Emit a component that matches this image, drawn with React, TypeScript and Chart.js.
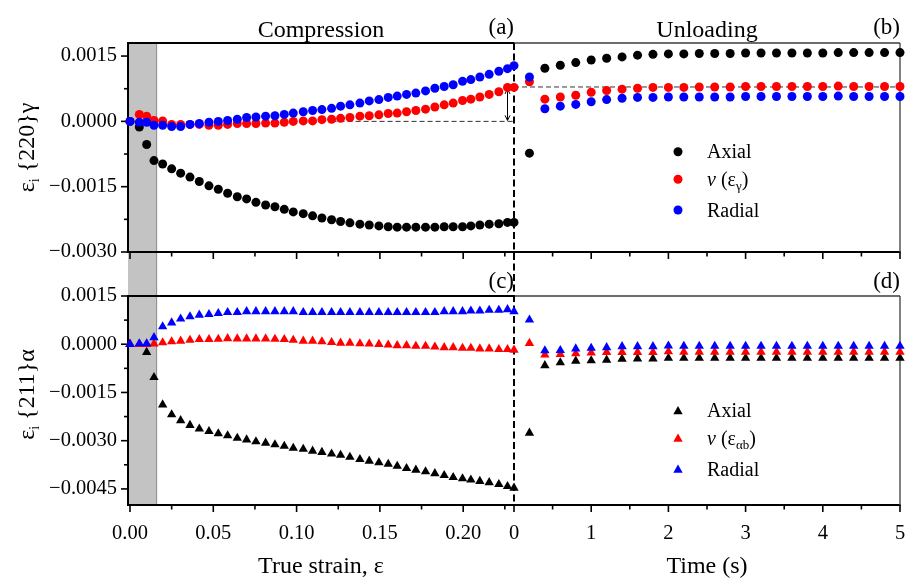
import React, { useEffect, useRef } from 'react';
import { Chart, registerables } from 'chart.js';

Chart.register(...registerables);

const FONT = "'Liberation Serif', 'Times New Roman', Times, serif";

// ---------- data ----------
// compression stage: true strain (shared by all compression series)
const strainComp = [0, 0.0056, 0.0100, 0.0144, 0.0196, 0.0250, 0.0304, 0.0360, 0.0416, 0.0474, 0.0530, 0.0586, 0.0644, 0.0700, 0.0756, 0.0814, 0.0870, 0.0926, 0.0980, 0.1040, 0.1096, 0.1152, 0.1210, 0.1264, 0.1320, 0.1380, 0.1436, 0.1494, 0.1550, 0.1604, 0.1660, 0.1716, 0.1774, 0.1830, 0.1886, 0.1940, 0.1996, 0.2046, 0.2100, 0.2156, 0.2214, 0.2266, 0.2305];
// unloading stage: time (s)
const timeUnl = [0.2, 0.4, 0.6, 0.8, 1.0, 1.2, 1.4, 1.6, 1.8, 2.0, 2.2, 2.4, 2.6, 2.8, 3.0, 3.2, 3.4, 3.6, 3.8, 4.0, 4.2, 4.4, 4.6, 4.8, 5.0];

// {220} gamma, compression
const axial220Comp = [0, -0.00013, -0.00053, -0.00090, -0.00098, -0.00109, -0.00119, -0.00128, -0.00138, -0.00148, -0.00156, -0.00165, -0.00173, -0.00178, -0.00186, -0.00192, -0.00196, -0.00202, -0.00208, -0.00212, -0.00217, -0.00222, -0.00226, -0.00230, -0.00233, -0.00236, -0.00238, -0.00240, -0.00242, -0.00243, -0.00243, -0.00243, -0.00243, -0.00243, -0.00242, -0.00242, -0.00242, -0.00240, -0.00238, -0.00236, -0.00235, -0.00232, -0.00232];
const nu220Comp = [0, 0.00016, 0.00012, 0.00002, 0.00001, -0.00007, -0.00007, -0.00007, -0.00007, -0.00009, -0.00009, -0.00007, -0.00005, -0.00005, -0.00005, -0.00004, -0.00004, -0.00002, 0, 0.00001, 0.00001, 0.00004, 0.00005, 0.00007, 0.00009, 0.00012, 0.00013, 0.00015, 0.00018, 0.00019, 0.00022, 0.00025, 0.00028, 0.00033, 0.00038, 0.00042, 0.00048, 0.00051, 0.00056, 0.00062, 0.00068, 0.00078, 0.00078];
const radial220Comp = [0, -0.00002, -0.00002, -0.00009, -0.00009, -0.00012, -0.00012, -0.00007, -0.00005, -0.00002, 0, 0.00002, 0.00005, 0.00009, 0.00010, 0.00012, 0.00013, 0.00016, 0.00019, 0.00022, 0.00025, 0.00027, 0.00030, 0.00035, 0.00038, 0.00042, 0.00047, 0.00050, 0.00055, 0.00058, 0.00062, 0.00065, 0.00070, 0.00076, 0.00080, 0.00084, 0.00092, 0.00096, 0.00102, 0.00108, 0.00115, 0.00121, 0.00128];
// {220} gamma, unloading
const axial220Unl = [-0.00073, 0.00122, 0.00129, 0.00135, 0.00141, 0.00145, 0.00148, 0.00152, 0.00154, 0.00155, 0.00155, 0.00156, 0.00156, 0.00156, 0.00157, 0.00157, 0.00157, 0.00157, 0.00157, 0.00157, 0.00158, 0.00158, 0.00158, 0.00158, 0.00158];
const nu220Unl = [0.00091, 0.00051, 0.00056, 0.00060, 0.00067, 0.00071, 0.00074, 0.00076, 0.00078, 0.00078, 0.00078, 0.00079, 0.00079, 0.00079, 0.00080, 0.00080, 0.00080, 0.00080, 0.00080, 0.00080, 0.00081, 0.00080, 0.00080, 0.00080, 0.00080];
const radial220Unl = [0.00102, 0.00029, 0.00035, 0.00039, 0.00045, 0.00050, 0.00053, 0.00055, 0.00055, 0.00056, 0.00056, 0.00056, 0.00056, 0.00056, 0.00057, 0.00057, 0.00057, 0.00057, 0.00057, 0.00057, 0.00058, 0.00057, 0.00057, 0.00057, 0.00057];

// {211} alpha, compression
const axial211Comp = [0, 0, -0.00025, -0.00103, -0.00188, -0.00219, -0.00237, -0.00252, -0.00263, -0.00271, -0.00278, -0.00284, -0.00292, -0.00297, -0.00303, -0.00307, -0.00312, -0.00317, -0.00323, -0.00326, -0.00332, -0.00336, -0.00341, -0.00345, -0.00351, -0.00358, -0.00363, -0.00368, -0.00373, -0.00379, -0.00386, -0.00391, -0.00396, -0.00402, -0.00408, -0.00414, -0.00418, -0.00422, -0.00426, -0.00430, -0.00436, -0.00442, -0.00447];
const nu211Comp = [0, 0, 0, 0.00001, 0.00005, 0.00008, 0.00010, 0.00013, 0.00015, 0.00015, 0.00016, 0.00018, 0.00017, 0.00017, 0.00017, 0.00017, 0.00016, 0.00015, 0.00013, 0.00010, 0.00010, 0.00008, 0.00006, 0.00004, 0.00004, 0.00002, 0.00001, 0, -0.00002, -0.00004, -0.00004, -0.00006, -0.00006, -0.00008, -0.00010, -0.00010, -0.00012, -0.00012, -0.00014, -0.00014, -0.00016, -0.00016, -0.00018];
const radial211Comp = [0, 0.00002, 0.00002, 0.00021, 0.00055, 0.00067, 0.00079, 0.00086, 0.00091, 0.00093, 0.00096, 0.00099, 0.00099, 0.00102, 0.00102, 0.00102, 0.00102, 0.00102, 0.00102, 0.00099, 0.00099, 0.00099, 0.00099, 0.00099, 0.00099, 0.00099, 0.00099, 0.00099, 0.00099, 0.00099, 0.00099, 0.00099, 0.00099, 0.00099, 0.00102, 0.00102, 0.00102, 0.00104, 0.00104, 0.00106, 0.00106, 0.00108, 0.00102];
// {211} alpha, unloading
const axial211Unl = [-0.00276, -0.00066, -0.00057, -0.00052, -0.00051, -0.00049, -0.00046, -0.00045, -0.00045, -0.00043, -0.00043, -0.00043, -0.00043, -0.00043, -0.00043, -0.00043, -0.00043, -0.00043, -0.00043, -0.00043, -0.00043, -0.00043, -0.00043, -0.00043, -0.00043];
const nu211Unl = [0.00003, -0.00033, -0.00031, -0.00029, -0.00027, -0.00025, -0.00025, -0.00025, -0.00025, -0.00023, -0.00024, -0.00024, -0.00024, -0.00024, -0.00024, -0.00024, -0.00024, -0.00024, -0.00024, -0.00024, -0.00024, -0.00024, -0.00024, -0.00024, -0.00024];
const radial211Unl = [0.00076, -0.00020, -0.00019, -0.00014, -0.00012, -0.00010, -0.00007, -0.00007, -0.00007, -0.00005, -0.00006, -0.00006, -0.00006, -0.00006, -0.00006, -0.00006, -0.00006, -0.00006, -0.00006, -0.00006, -0.00006, -0.00006, -0.00006, -0.00006, -0.00006];

// ticks
const compTicksMajor = [0, 0.05, 0.10, 0.15, 0.20];
const compTicksMinor = [0.025, 0.075, 0.125, 0.175, 0.225];
const timeTicksMajor = [0, 1, 2, 3, 4, 5];
const timeTicksMinor = [0.5, 1.5, 2.5, 3.5, 4.5];
const yTopTicksMajor = [-0.003, -0.0015, 0, 0.0015];
const yTopTicksMinor = [-0.00225, -0.00075, 0.00075];
const yBotTicksMajor = [-0.0045, -0.003, -0.0015, 0, 0.0015];
const yBotTicksMinor = [-0.00375, -0.00225, -0.00075, 0.00075];

// annotations (data units)
const shadeStrainEnd = 0.016;
const zeroLineStart = 0.121;
const arrowStrain = 0.2266;
const arrowTopValue = 0.00078;
const residualLevel = 0.00079;

const COLORS = { axial: '#000000', nu: '#ff0000', radial: '#0000ff' };

// ---------- helpers ----------
const isIn = (arr: number[], v: number) => arr.some((m) => Math.abs(m - v) < 1e-9);
const fmtY = (v: number) => {
  const s = (Math.abs(v) < 1e-12 ? 0 : v).toFixed(4);
  return s.replace('-', '\u2212');
};

type Part = { t: string; size: number; dy?: number; italic?: boolean };
const fontOf = (p: Part) => `${p.italic ? 'italic ' : ''}${p.size}px ${FONT}`;
function drawParts(ctx: CanvasRenderingContext2D, parts: Part[], x: number, y: number, align: 'left' | 'center' | 'right') {
  let w = 0;
  for (const p of parts) {
    ctx.font = fontOf(p);
    w += ctx.measureText(p.t).width;
  }
  let cx = align === 'center' ? x - w / 2 : align === 'right' ? x - w : x;
  ctx.textAlign = 'left';
  ctx.textBaseline = 'alphabetic';
  for (const p of parts) {
    ctx.font = fontOf(p);
    ctx.fillText(p.t, cx, y + (p.dy || 0));
    cx += ctx.measureText(p.t).width;
  }
}

function marker(ctx: CanvasRenderingContext2D, style: string, x: number, y: number, r: number, color: string) {
  ctx.fillStyle = color;
  ctx.beginPath();
  if (style === 'circle') {
    ctx.arc(x, y, r, 0, Math.PI * 2);
  } else {
    let rad = 0;
    ctx.moveTo(x + Math.sin(rad) * r, y - Math.cos(rad) * r);
    rad += (2 * Math.PI) / 3;
    ctx.lineTo(x + Math.sin(rad) * r, y - Math.cos(rad) * r);
    rad += (2 * Math.PI) / 3;
    ctx.lineTo(x + Math.sin(rad) * r, y - Math.cos(rad) * r);
    ctx.closePath();
  }
  ctx.fill();
}

const CIRCLE_R = 4.5;
const TRI_R = 5.4;

function makeSet(label: string, xs: number[], ys: number[], color: string, style: string, xAxisID: string, yAxisID: string, order: number) {
  return {
    label,
    data: xs.map((x, i) => ({ x, y: ys[i] })),
    xAxisID,
    yAxisID,
    order,
    showLine: false,
    clip: false as any,
    pointStyle: style,
    pointRadius: style === 'circle' ? CIRCLE_R : TRI_R,
    pointHoverRadius: style === 'circle' ? CIRCLE_R : TRI_R,
    pointBackgroundColor: color,
    pointBorderColor: color,
    pointBorderWidth: 0,
    backgroundColor: color,
    borderColor: color,
  };
}

const overlayPlugin = {
  id: 'overlay',
  beforeDatasetsDraw(chart: any) {
    const { ctx, scales } = chart;
    const xC = scales.xComp, xU = scales.xUnl, yT = scales.yTop, yB = scales.yBot;
    const L = xC.left, M = xU.left, R = xU.right;
    const T1 = yT.top, B1 = yT.bottom, T2 = yB.top, B2 = yB.bottom;
    ctx.save();

    // shaded initial region
    const sx = xC.getPixelForValue(shadeStrainEnd);
    ctx.fillStyle = '#c3c3c3';
    ctx.fillRect(L, T1, sx - L, B2 - T1);
    ctx.strokeStyle = '#8a8a8a';
    ctx.lineWidth = 1;
    ctx.beginPath();
    ctx.moveTo(sx, T1);
    ctx.lineTo(sx, B2);
    ctx.stroke();

    // thin dashed guide lines
    ctx.strokeStyle = '#333';
    ctx.lineWidth = 1;
    ctx.setLineDash([5, 3]);
    const y0 = yT.getPixelForValue(0);
    ctx.beginPath();
    ctx.moveTo(xC.getPixelForValue(zeroLineStart), y0);
    ctx.lineTo(M, y0);
    ctx.stroke();
    const yr = yT.getPixelForValue(residualLevel);
    ctx.beginPath();
    ctx.moveTo(M, yr);
    ctx.lineTo(R, yr);
    ctx.stroke();
    ctx.setLineDash([]);

    // double arrow
    const ax = xC.getPixelForValue(arrowStrain);
    const ya = yT.getPixelForValue(arrowTopValue) + 1.5;
    const yb = y0 - 1;
    ctx.strokeStyle = '#000';
    ctx.lineWidth = 1;
    ctx.beginPath();
    ctx.moveTo(ax, ya);
    ctx.lineTo(ax, yb);
    ctx.moveTo(ax - 2.5, ya + 5);
    ctx.lineTo(ax, ya);
    ctx.lineTo(ax + 2.5, ya + 5);
    ctx.moveTo(ax - 2.5, yb - 5);
    ctx.lineTo(ax, yb);
    ctx.lineTo(ax + 2.5, yb - 5);
    ctx.stroke();

    // frames
    const line = (x1: number, y1: number, x2: number, y2: number) => {
      ctx.beginPath();
      ctx.moveTo(x1, y1);
      ctx.lineTo(x2, y2);
      ctx.stroke();
    };
    for (const [T, B] of [[T1, B1], [T2, B2]]) {
      ctx.strokeStyle = '#000';
      ctx.lineWidth = 2;
      line(L, T - 1, L, B + 1);
      line(L - 1, B, R + 0.5, B);
      line(L - 1, T, M, T);
      ctx.strokeStyle = '#3c3c3c';
      ctx.lineWidth = 1.3;
      line(M, T, R, T);
      line(R, T, R, B);
    }

    // tick marks
    ctx.strokeStyle = '#000';
    ctx.lineWidth = 1.6;
    for (const v of yTopTicksMajor) { const y = yT.getPixelForValue(v); line(L - 7, y, L, y); }
    for (const v of yTopTicksMinor) { const y = yT.getPixelForValue(v); line(L - 4, y, L, y); }
    for (const v of yBotTicksMajor) { const y = yB.getPixelForValue(v); line(L - 7, y, L, y); }
    for (const v of yBotTicksMinor) { const y = yB.getPixelForValue(v); line(L - 4, y, L, y); }
    for (const B of [B1, B2]) {
      for (const v of compTicksMajor) { const x = xC.getPixelForValue(v); line(x, B, x, B + 7); }
      for (const v of compTicksMinor) { const x = xC.getPixelForValue(v); line(x, B, x, B + 4.5); }
      for (const v of timeTicksMajor) { const x = xU.getPixelForValue(v); line(x, B, x, B + 7); }
      for (const v of timeTicksMinor) { const x = xU.getPixelForValue(v); line(x, B, x, B + 4.5); }
    }

    // stage boundary (end of compression / start of unloading)
    ctx.lineWidth = 2;
    ctx.setLineDash([7, 3.5]);
    line(M, T1, M, B2);
    ctx.setLineDash([]);
    ctx.restore();
  },
  afterDatasetsDraw(chart: any) {
    const { ctx, scales } = chart;
    const xC = scales.xComp, xU = scales.xUnl, yT = scales.yTop, yB = scales.yBot;
    const M = xU.left, R = xU.right;
    ctx.save();
    ctx.fillStyle = '#000';

    // stage titles and panel letters
    drawParts(ctx, [{ t: 'Compression', size: 24 }], (xC.left + M) / 2, yT.top - 6, 'center');
    drawParts(ctx, [{ t: 'Unloading', size: 24 }], (M + R) / 2, yT.top - 6, 'center');
    drawParts(ctx, [{ t: '(a)', size: 23 }], M, yT.top - 9, 'right');
    drawParts(ctx, [{ t: '(b)', size: 23 }], R, yT.top - 9, 'right');
    drawParts(ctx, [{ t: '(c)', size: 23 }], M, yB.top - 8.5, 'right');
    drawParts(ctx, [{ t: '(d)', size: 23 }], R, yB.top - 8.5, 'right');

    // x-axis titles
    drawParts(ctx, [{ t: 'True strain, \u03b5', size: 24 }], (xC.left + M) / 2, 573, 'center');
    drawParts(ctx, [{ t: 'Time (s)', size: 24 }], (M + R) / 2, 573, 'center');

    // y-axis titles (rotated)
    const yTitle = (cy: number, rest: string) => {
      ctx.save();
      ctx.translate(34, cy);
      ctx.rotate(-Math.PI / 2);
      drawParts(ctx, [{ t: '\u03b5', size: 24 }, { t: 'i', size: 14, dy: 5 }, { t: ' ' + rest, size: 24 }], 0, 0, 'center');
      ctx.restore();
    };
    yTitle((yT.top + yT.bottom) / 2, '{220}\u03b3');
    yTitle((yB.top + yB.bottom) / 2 - 6, '{211}\u03b1');

    // legends
    const lx = 678, tx = 707;
    marker(ctx, 'circle', lx, 151.7, CIRCLE_R, COLORS.axial);
    marker(ctx, 'circle', lx, 179.3, CIRCLE_R, COLORS.nu);
    marker(ctx, 'circle', lx, 210, CIRCLE_R, COLORS.radial);
    ctx.fillStyle = '#000';
    drawParts(ctx, [{ t: 'Axial', size: 20 }], tx, 158.3, 'left');
    drawParts(ctx, [{ t: '\u03bd', size: 20, italic: true }, { t: ' (\u03b5', size: 20 }, { t: '\u03b3', size: 13, dy: 4 }, { t: ')', size: 20 }], tx, 186, 'left');
    drawParts(ctx, [{ t: 'Radial', size: 20 }], tx, 216.8, 'left');

    marker(ctx, 'triangle', lx, 411.5, TRI_R, COLORS.axial);
    marker(ctx, 'triangle', lx, 439, TRI_R, COLORS.nu);
    marker(ctx, 'triangle', lx, 470, TRI_R, COLORS.radial);
    ctx.fillStyle = '#000';
    drawParts(ctx, [{ t: 'Axial', size: 20 }], tx, 417, 'left');
    drawParts(ctx, [{ t: '\u03bd', size: 20, italic: true }, { t: ' (\u03b5', size: 20 }, { t: '\u03b1b', size: 13, dy: 4 }, { t: ')', size: 20 }], tx, 445, 'left');
    drawParts(ctx, [{ t: 'Radial', size: 20 }], tx, 476, 'left');
    ctx.restore();
  },
};

const tickFont = { family: FONT, size: 20.5 };

const zeroPadding = (s: any) => {
  s.paddingLeft = 0;
  s.paddingRight = 0;
  s.paddingTop = 0;
  s.paddingBottom = 0;
};

function xScale(min: number, max: number, major: number[], minor: number[], weight: number, fmt: (v: number) => string) {
  return {
    type: 'linear' as const,
    axis: 'x' as const,
    position: 'bottom' as const,
    stack: 'xs',
    stackWeight: 1,
    weight,
    min,
    max,
    afterBuildTicks: (s: any) => {
      s.ticks = [...major, ...minor].sort((a, b) => a - b).map((value) => ({ value }));
    },
    afterFit: (s: any) => {
      s.height = 74;
      zeroPadding(s);
    },
    grid: { display: false, drawTicks: false },
    border: { display: false },
    ticks: {
      autoSkip: false,
      maxRotation: 0,
      minRotation: 0,
      padding: 16,
      color: '#000',
      font: tickFont,
      callback: (v: any) => (isIn(major, Number(v)) ? fmt(Number(v)) : ''),
    },
  };
}

function yScale(min: number, max: number, major: number[], minor: number[], weight: number, stackWeight: number) {
  return {
    type: 'linear' as const,
    axis: 'y' as const,
    position: 'left' as const,
    stack: 'ys',
    stackWeight,
    weight,
    min,
    max,
    afterBuildTicks: (s: any) => {
      s.ticks = [...major, ...minor].sort((a, b) => a - b).map((value) => ({ value }));
    },
    afterFit: (s: any) => {
      s.width = 128;
      zeroPadding(s);
    },
    grid: { display: false, drawTicks: false },
    border: { display: false },
    ticks: {
      autoSkip: false,
      padding: 11,
      color: '#000',
      font: tickFont,
      callback: (v: any) => (isIn(major, Number(v)) ? fmtY(Number(v)) : ''),
    },
  };
}

export default function App() {
  const ref = useRef<HTMLCanvasElement>(null);
  useEffect(() => {
    if (!ref.current) return;
    const datasets = [
      makeSet('Radial {220}', strainComp, radial220Comp, COLORS.radial, 'circle', 'xComp', 'yTop', 0),
      makeSet('\u03bd(\u03b5\u03b3) {220}', strainComp, nu220Comp, COLORS.nu, 'circle', 'xComp', 'yTop', 1),
      makeSet('Axial {220}', strainComp, axial220Comp, COLORS.axial, 'circle', 'xComp', 'yTop', 2),
      makeSet('Radial {220} unloading', timeUnl, radial220Unl, COLORS.radial, 'circle', 'xUnl', 'yTop', 0),
      makeSet('\u03bd(\u03b5\u03b3) {220} unloading', timeUnl, nu220Unl, COLORS.nu, 'circle', 'xUnl', 'yTop', 1),
      makeSet('Axial {220} unloading', timeUnl, axial220Unl, COLORS.axial, 'circle', 'xUnl', 'yTop', 2),
      makeSet('Radial {211}', strainComp, radial211Comp, COLORS.radial, 'triangle', 'xComp', 'yBot', 0),
      makeSet('\u03bd(\u03b5\u03b1b) {211}', strainComp, nu211Comp, COLORS.nu, 'triangle', 'xComp', 'yBot', 1),
      makeSet('Axial {211}', strainComp, axial211Comp, COLORS.axial, 'triangle', 'xComp', 'yBot', 2),
      makeSet('Radial {211} unloading', timeUnl, radial211Unl, COLORS.radial, 'triangle', 'xUnl', 'yBot', 0),
      makeSet('\u03bd(\u03b5\u03b1b) {211} unloading', timeUnl, nu211Unl, COLORS.nu, 'triangle', 'xUnl', 'yBot', 1),
      makeSet('Axial {211} unloading', timeUnl, axial211Unl, COLORS.axial, 'triangle', 'xUnl', 'yBot', 2),
    ];
    const chart = new Chart(ref.current, {
      type: 'scatter',
      data: { datasets: datasets as any },
      options: {
        animation: false,
        responsive: false,
        devicePixelRatio: 1,
        events: [],
        layout: { autoPadding: false, padding: { left: 0, top: 43, right: 7, bottom: 0 } },
        plugins: { legend: { display: false }, tooltip: { enabled: false } },
        scales: {
          xComp: xScale(-0.0012, 0.2305, compTicksMajor, compTicksMinor, 1, (v) => v.toFixed(2)),
          xUnl: xScale(0, 5, timeTicksMajor, timeTicksMinor, 2, (v) => String(Math.round(v))),
          yTop: yScale(-0.003, 0.0018, yTopTicksMajor, yTopTicksMinor, 3, 209),
          yGap: {
            type: 'linear',
            axis: 'y',
            position: 'left',
            stack: 'ys',
            stackWeight: 44,
            weight: 2,
            min: 0,
            max: 1,
            afterFit: (s: any) => {
              s.width = 128;
              zeroPadding(s);
            },
            grid: { display: false, drawTicks: false },
            border: { display: false },
            ticks: { display: false },
          },
          yBot: yScale(-0.005, 0.0015, yBotTicksMajor, yBotTicksMinor, 1, 209),
        } as any,
      },
      plugins: [overlayPlugin],
    });
    return () => chart.destroy();
  }, []);
  return (
    <div style={{ position: 'absolute', left: 0, top: 0, width: 907, height: 579, background: '#fff' }}>
      <canvas ref={ref} width={907} height={579} style={{ display: 'block', width: 907, height: 579 }} />
    </div>
  );
}
